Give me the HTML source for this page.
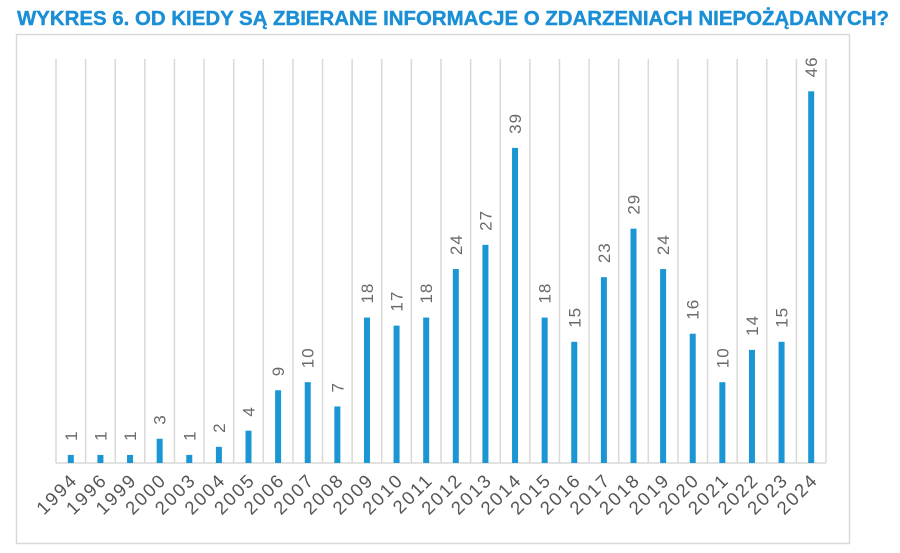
<!DOCTYPE html>
<html><head><meta charset="utf-8"><style>
body{margin:0;background:#fff;width:900px;height:553px;overflow:hidden}
svg{display:block}
</style></head><body>
<svg width="900" height="553">
<text x="17" y="25" font-family="Liberation Sans, sans-serif" font-weight="bold" font-size="20" fill="#1a8fd6" stroke="#1a8fd6" stroke-width="0.4" textLength="872" lengthAdjust="spacingAndGlyphs">WYKRES 6. OD KIEDY SĄ ZBIERANE INFORMACJE O ZDARZENIACH NIEPOŻĄDANYCH?</text>
<rect x="16.5" y="34.5" width="833" height="509" fill="none" stroke="#d9d9d9" stroke-width="1.5"/>
<g id="grid"></g><g id="bars"></g><g id="labels"></g>
</svg>
<script>
const categories=["1994","1996","1999","2000","2003","2004","2005","2006","2007","2008","2009","2010","2011","2012","2013","2014","2015","2016","2017","2018","2019","2020","2021","2022","2023","2024"];
const values=[1,1,1,3,1,2,4,9,10,7,18,17,18,24,27,39,18,15,23,29,24,16,10,14,15,46];
const NS="http://www.w3.org/2000/svg";
const n=categories.length;
const x0=56,x1=826,step=(x1-x0)/n;
const base=463,scale=8.08;
const xc=i=>x0+step*(i+0.5);
const y=v=>base-v*scale;
const grid=document.getElementById('grid'),bars=document.getElementById('bars'),labels=document.getElementById('labels');
function mk(t,a){const e=document.createElementNS(NS,t);for(const k in a)e.setAttribute(k,a[k]);return e;}
for(let i=0;i<=n;i++){
 const l=mk('line',{x1:x0+step*i,x2:x0+step*i,y1:59,y2:base,stroke:'#d9d9d9','stroke-width':1.5});
 
 
 grid.appendChild(l);
}
const ax=mk('line',{x1:x0,x2:x1,y1:base,y2:base,stroke:'#d9d9d9','stroke-width':1.5});


grid.appendChild(ax);
values.forEach((v,i)=>{
 const r=mk('rect',{x:xc(i)-3,y:y(v),width:6,height:v*scale,fill:'#1a96d4'});
 
 
 bars.appendChild(r);
 const t=mk('text',{transform:`translate(${xc(i)+6},${y(v)-14}) rotate(-90)`,'font-family':'Liberation Sans, sans-serif','font-size':17,'letter-spacing':1,fill:'#6a6a6a'});
 t.textContent=v;
 
 
 labels.appendChild(t);
 const c=mk('text',{transform:`translate(${xc(i)+8},${481}) rotate(-45)`,'text-anchor':'end','font-family':'Liberation Sans, sans-serif','font-size':18.5,'letter-spacing':2,fill:'#555'});
 c.textContent=categories[i];
 
 
 labels.appendChild(c);
});
</script>
</body></html>
